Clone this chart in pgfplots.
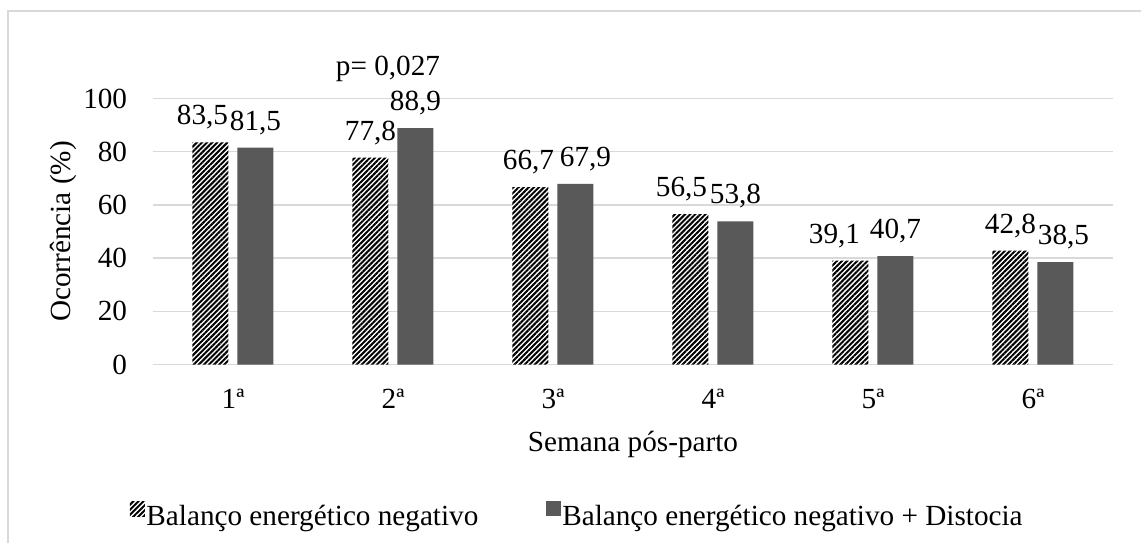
\documentclass[border=0pt]{standalone}
\usepackage{fontspec}
\setmainfont{Liberation Serif}
\usepackage{pgfplots}
\usepackage{pgfplotstable}
\pgfplotsset{compat=1.18}
\usetikzlibrary{patterns.meta}
\definecolor{gridc}{HTML}{D9D9D9}
\definecolor{barg}{HTML}{595959}
\newcommand\fs{\fontsize{14.6pt}{17.5pt}\selectfont}
\pgfplotsset{sqlegend/.style={legend image code/.code={\fill[##1] (0pt,0.25pt) rectangle (7.5pt,7.75pt);}}}

\pgfplotstableread{
x y dx
0 83.5 -4
1 77.8 0
2 66.7 -1
3 56.5 -4.5
4 39.1 -8
5 42.8 0
}\bena
\pgfplotstableread{
x y dx
0 81.5 0
1 88.9 0
2 67.9 5
3 53.8 0
4 40.7 0
5 38.5 4
}\benadist

\begin{document}
\begin{tikzpicture}[font=\fs]
\path[use as bounding box] (0,0) rectangle (570.5pt,271.5pt);
\draw[gridc, line width=0.75pt] (4pt,0) -- (4pt,266pt) -- (571pt,266pt);
\begin{axis}[
  at={(76.5pt,89.25pt)}, anchor=south west,
  scale only axis, width=480pt, height=133pt,
  xmin=-0.5, xmax=5.5, ymin=0, ymax=100,
  ybar=4.5pt, bar width=18pt,
  xtick={0,...,5}, xticklabels={1ª,2ª,3ª,4ª,5ª,6ª},
  ytick={0,20,...,100},
  ymajorgrids, grid style={gridc, line width=0.75pt},
  axis line style={draw=none},
  major tick length=0pt,
  tick label style={font=\fs},
  /pgf/number format/assume math mode=true,
  yticklabel style={anchor=east, inner sep=0pt, xshift=-12.75pt},
  xticklabel style={anchor=base, inner sep=0pt, yshift=-21.75pt},
  xlabel={Semana pós-parto},
  xlabel style={at={(axis description cs:0.5,0)}, anchor=base, yshift=-43.25pt, font=\fs, inner sep=0pt},
  ylabel={Ocorrência (\%)},
  ylabel style={at={(axis description cs:-0.08646,0.5)}, anchor=base, font=\fs, inner sep=0pt},
  nodes near coords={\pgfmathprintnumber[assume math mode=true,use comma,fixed,fixed zerofill,precision=1]{\pgfplotspointmeta}},
  nodes near coords style={font=\fs, anchor=base, inner sep=0pt, yshift=8.75pt, text=black},
  clip=false,
  legend columns=2,
  legend style={at={(axis description cs:0,0)}, anchor=west, xshift=-11.5pt, yshift=-75.5pt,
    draw=none, fill=none, inner sep=0pt, outer sep=0pt, font=\fs,
    nodes={inner sep=0.75pt},
    /tikz/every even column/.append style={column sep=33pt}},
]
\addplot[draw=none, preaction={fill=white}, pattern={Lines[angle=45,distance=1.8pt,line width=1pt]}, pattern color=black,
  visualization depends on={\thisrow{dx}\as\dx},
  every node near coord/.append style={xshift=\dx},
  sqlegend]
  table[x=x,y=y] \bena;
\addplot[draw=none, fill=barg,
  visualization depends on={\thisrow{dx}\as\dx},
  every node near coord/.append style={xshift=\dx},
  sqlegend]
  table[x=x,y=y] \benadist;
\legend{Balanço energético negativo, Balanço energético negativo + Distocia}
\node[anchor=base, inner sep=0pt, font=\fs] at ([xshift=-2.5pt,yshift=11.75pt]axis cs:1,100) {p= 0,027};
\end{axis}
\end{tikzpicture}
\end{document}
